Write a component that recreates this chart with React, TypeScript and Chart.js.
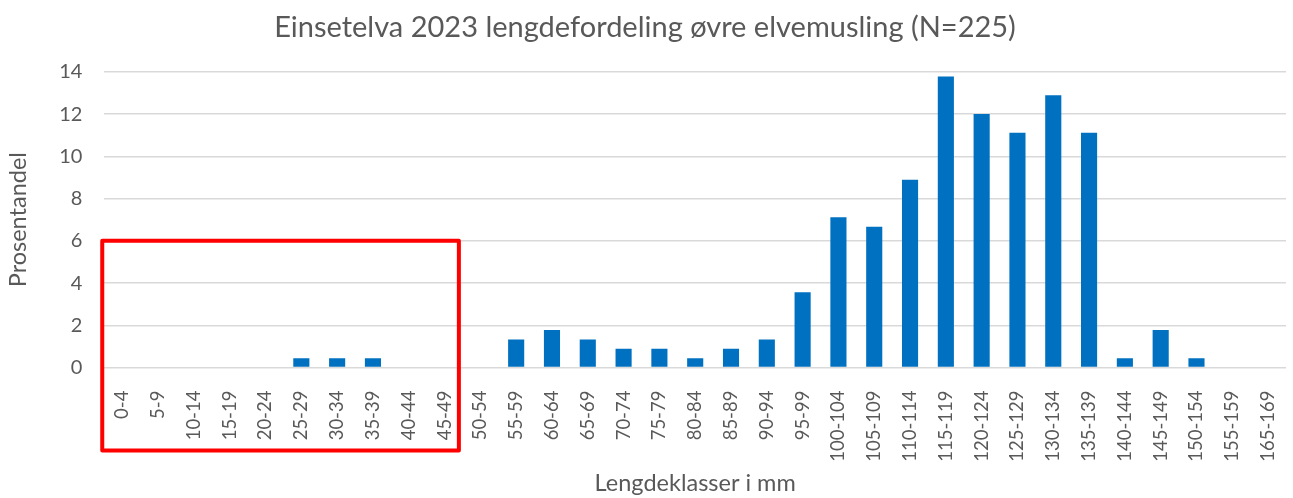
import React, { useEffect, useRef } from "react";
import { Chart, registerables } from "chart.js";

Chart.register(...registerables);

const categories = [
  "0-4", "5-9", "10-14", "15-19", "20-24", "25-29", "30-34", "35-39", "40-44", "45-49",
  "50-54", "55-59", "60-64", "65-69", "70-74", "75-79", "80-84", "85-89", "90-94", "95-99",
  "100-104", "105-109", "110-114", "115-119", "120-124", "125-129", "130-134", "135-139",
  "140-144", "145-149", "150-154", "155-159", "165-169",
];

const percentValues = [
  0, 0, 0, 0, 0, 0.44, 0.44, 0.44, 0, 0,
  0, 1.33, 1.78, 1.33, 0.89, 0.89, 0.44, 0.89, 1.33, 3.56,
  7.11, 6.67, 8.89, 13.78, 12.0, 11.11, 12.89, 11.11,
  0.44, 1.78, 0.44, 0, 0,
];

const titleText = "Einsetelva 2023 lengdefordeling øvre elvemusling (N=225)";
const xTitle = "Lengdeklasser i mm";
const yTitle = "Prosentandel";

// highlighted range (category indices) and top value of the red box
const highlightFrom = 0;
const highlightTo = 9;
const highlightTop = 6;

const FONT = "Lato, 'Open Sans', sans-serif";
const TEXT = "#595959";

const redBox = {
  id: "redBox",
  afterDraw(chart: any) {
    const x = chart.scales.x;
    const y = chart.scales.y;
    const ctx = chart.ctx;
    const step = x.getPixelForValue(1) - x.getPixelForValue(0);
    const left = x.getPixelForValue(highlightFrom) - step * 0.56;
    const right = x.getPixelForValue(highlightTo) + step * 0.4;
    const top = y.getPixelForValue(highlightTop);
    const bottom = y.bottom + 83;
    ctx.save();
    ctx.strokeStyle = "#ff0000";
    ctx.lineWidth = 4;
    ctx.lineJoin = "round";
    ctx.strokeRect(left, top, right - left, bottom - top);
    ctx.restore();
  },
};

export default function App() {
  const ref = useRef<HTMLCanvasElement>(null);
  useEffect(() => {
    document.body.style.margin = "0";
    const chart = new Chart(ref.current!, {
      type: "bar",
      data: {
        labels: categories,
        datasets: [
          {
            data: percentValues,
            backgroundColor: "#0070C0",
            borderWidth: 0,
            barPercentage: 0.45,
            categoryPercentage: 1,
          },
        ],
      },
      options: {
        animation: false,
        responsive: true,
        maintainAspectRatio: false,
        layout: { padding: { left: 4, right: 7, top: 10, bottom: 0 } },
        plugins: {
          legend: { display: false },
          tooltip: { enabled: false },
          title: {
            display: true,
            text: titleText,
            color: TEXT,
            font: { family: FONT, size: 29, weight: "normal" },
            padding: { top: 0, bottom: 27 },
          },
        },
        scales: {
          x: {
            afterFit: (scale: any) => {
              scale.paddingRight = 0;
            },
            grid: { display: false },
            border: { display: false },
            ticks: {
              color: TEXT,
              font: { family: FONT, size: 18.5 },
              maxRotation: 90,
              minRotation: 90,
              autoSkip: false,
              padding: 15,
            },
            title: {
              display: true,
              text: xTitle,
              color: TEXT,
              font: { family: FONT, size: 23.5 },
              padding: { top: -7, bottom: 0 },
            },
          },
          y: {
            min: 0,
            max: 14,
            grid: { color: "#d9d9d9", lineWidth: 1.5, drawTicks: false },
            border: { display: false },
            ticks: {
              stepSize: 2,
              color: TEXT,
              font: { family: FONT, size: 20 },
              padding: 22,
            },
            title: {
              display: true,
              text: yTitle,
              color: TEXT,
              font: { family: FONT, size: 23.5 },
              padding: { top: 0, bottom: 5 },
            },
          },
        },
      },
      plugins: [redBox],
    });
    return () => chart.destroy();
  }, []);
  return (
    <div style={{ position: "relative", width: 1293, height: 498 }}>
      <canvas ref={ref} />
    </div>
  );
}
